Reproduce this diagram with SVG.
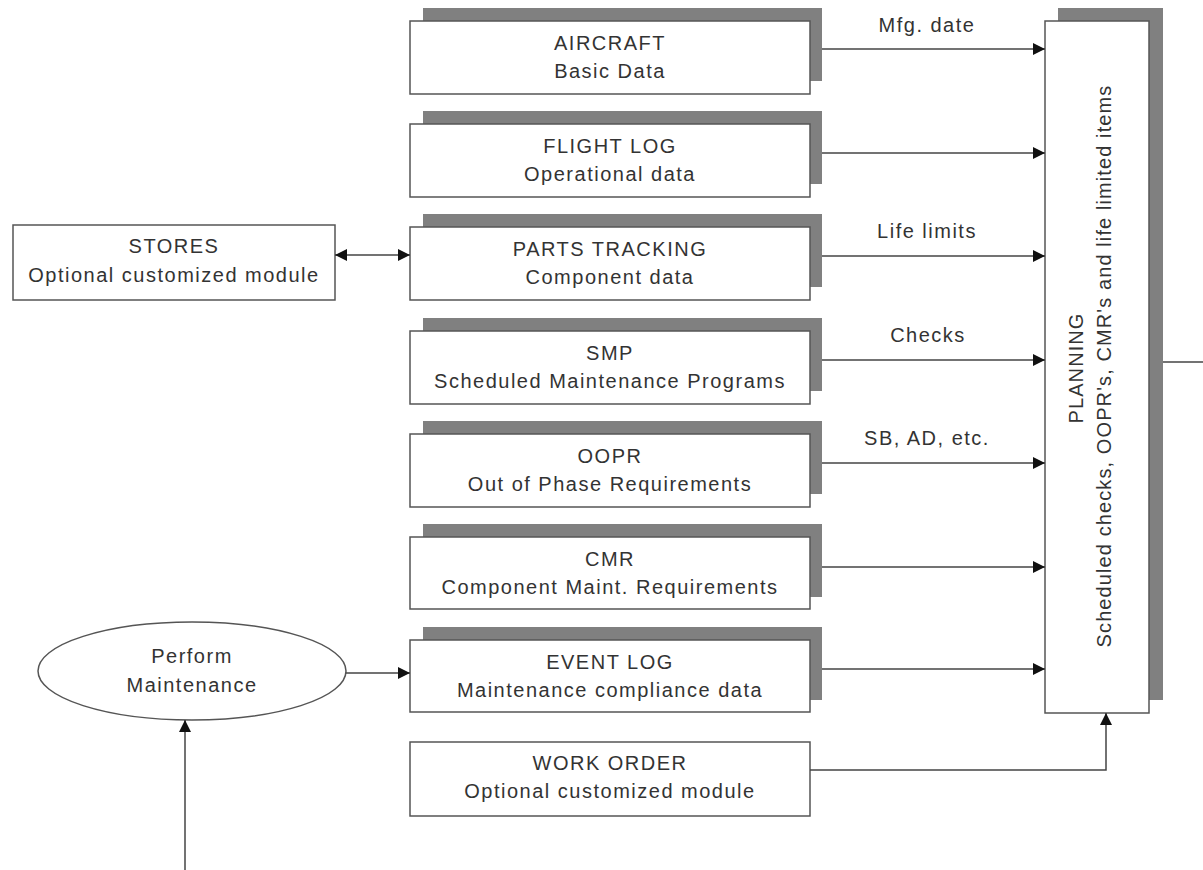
<svg xmlns="http://www.w3.org/2000/svg" width="1203" height="870" viewBox="0 0 1203 870">
<defs>
<marker id="ah" viewBox="0 0 10 10" refX="10" refY="5" markerWidth="12" markerHeight="12" markerUnits="userSpaceOnUse" orient="auto-start-reverse"><path d="M0,0 L10,5 L0,10 z" fill="#111"/></marker>
<style>
.box{fill:#fff;stroke:#555;stroke-width:1.5}
.sh{fill:#808080}
.t{font-family:"Liberation Sans",Arial,sans-serif;font-size:20px;letter-spacing:1.5px;fill:#333;text-anchor:middle}
.p{letter-spacing:1.1px}
.c{fill:none;stroke:#444;stroke-width:1.5}
</style>
</defs>
<rect width="1203" height="870" fill="#fff"/>
<g id="aircraft"><rect class="sh" x="423" y="8" width="399" height="73"/><rect class="box" x="410" y="21" width="400" height="73"/><text class="t" x="610" y="50">AIRCRAFT</text><text class="t" x="610" y="78">Basic Data</text></g>
<g id="flightlog"><rect class="sh" x="423" y="111" width="399" height="73"/><rect class="box" x="410" y="124" width="400" height="73"/><text class="t" x="610" y="153">FLIGHT LOG</text><text class="t" x="610" y="181">Operational data</text></g>
<g id="parts"><rect class="sh" x="423" y="214" width="399" height="73"/><rect class="box" x="410" y="227" width="400" height="73"/><text class="t" x="610" y="256">PARTS TRACKING</text><text class="t" x="610" y="284">Component data</text></g>
<g id="smp"><rect class="sh" x="423" y="318" width="399" height="73"/><rect class="box" x="410" y="331" width="400" height="73"/><text class="t" x="610" y="360">SMP</text><text class="t" x="610" y="388">Scheduled Maintenance Programs</text></g>
<g id="oopr"><rect class="sh" x="423" y="421" width="399" height="73"/><rect class="box" x="410" y="434" width="400" height="73"/><text class="t" x="610" y="463">OOPR</text><text class="t" x="610" y="491">Out of Phase Requirements</text></g>
<g id="cmr"><rect class="sh" x="423" y="524" width="399" height="73"/><rect class="box" x="410" y="537" width="400" height="72"/><text class="t" x="610" y="566">CMR</text><text class="t" x="610" y="594">Component Maint. Requirements</text></g>
<g id="eventlog"><rect class="sh" x="423" y="627" width="399" height="73"/><rect class="box" x="410" y="640" width="400" height="72"/><text class="t" x="610" y="669">EVENT LOG</text><text class="t" x="610" y="697">Maintenance compliance data</text></g>
<g id="workorder"><rect class="box" x="410" y="742" width="400" height="74"/><text class="t" x="610" y="770">WORK ORDER</text><text class="t" x="610" y="798">Optional customized module</text></g>
<g id="stores"><rect class="box" x="13" y="225" width="322" height="75"/><text class="t" x="174" y="253">STORES</text><text class="t" x="174" y="282">Optional customized module</text></g>
<g id="perform"><ellipse class="box" cx="192" cy="671" rx="154" ry="49" stroke="#666" stroke-width="1.2"/><text class="t" x="192" y="663">Perform</text><text class="t" x="192" y="692">Maintenance</text></g>
<g id="planning"><rect class="sh" x="1058" y="8" width="105" height="692"/><rect class="box" x="1045" y="21" width="104" height="692"/><text class="t p" transform="translate(1083,368) rotate(-90)">PLANNING</text><text class="t p" transform="translate(1111,366) rotate(-90)">Scheduled checks, OOPR's, CMR's and life limited items</text></g>
<g id="connectors">
<path class="c" d="M822,49 H1045" marker-end="url(#ah)"/>
<path class="c" d="M822,153 H1045" marker-end="url(#ah)"/>
<path class="c" d="M822,256 H1045" marker-end="url(#ah)"/>
<path class="c" d="M822,360 H1045" marker-end="url(#ah)"/>
<path class="c" d="M822,463 H1045" marker-end="url(#ah)"/>
<path class="c" d="M822,567 H1045" marker-end="url(#ah)"/>
<path class="c" d="M822,669 H1045" marker-end="url(#ah)"/>
<path class="c" d="M810,770 H1106 V713" marker-end="url(#ah)"/>
<path class="c" d="M1163,362 H1203"/>
<path class="c" d="M335,255 H410" marker-start="url(#ah)" marker-end="url(#ah)"/>
<path class="c" d="M346,673 H410" marker-end="url(#ah)"/>
<path class="c" d="M185,870 V720" marker-end="url(#ah)"/>
<text class="t" x="927" y="32">Mfg. date</text>
<text class="t" x="927" y="238">Life limits</text>
<text class="t" x="928" y="342">Checks</text>
<text class="t" x="927" y="445">SB, AD, etc.</text>
</g>
</svg>
